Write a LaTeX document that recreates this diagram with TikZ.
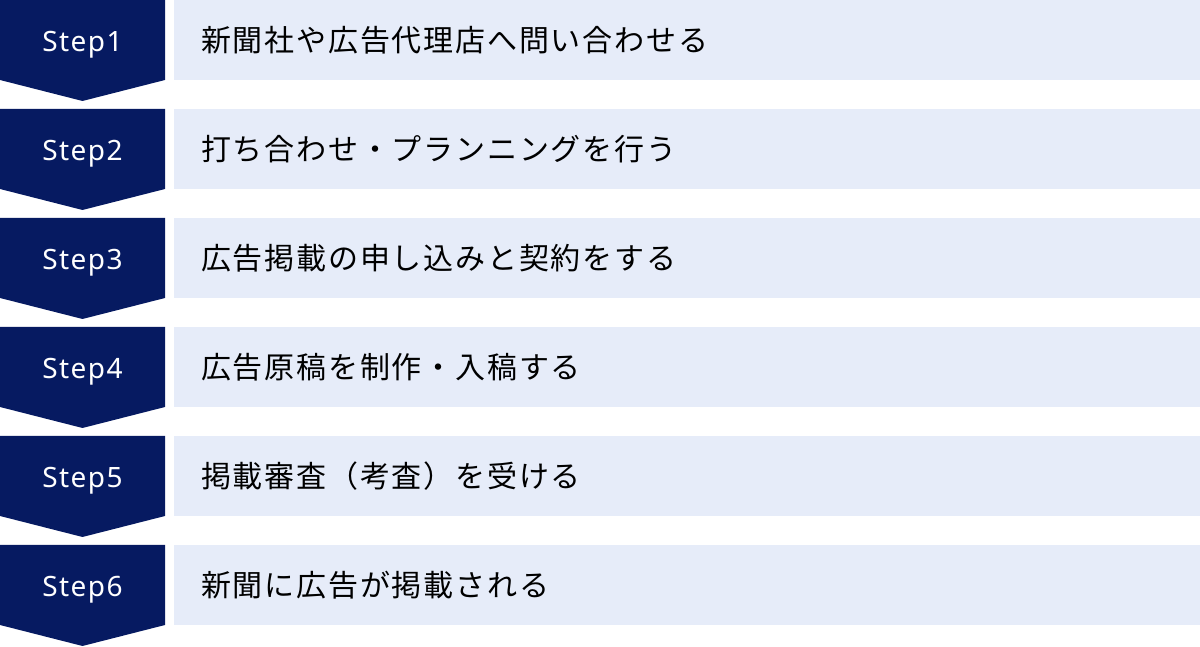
\documentclass[tikz,border=0pt]{standalone}
\usepackage{fontspec}
\setmainfont[LetterSpace=6]{Noto Sans CJK JP}
\newfontfamily\stepfont[LetterSpace=5]{Noto Sans}
\definecolor{navy}{HTML}{061A61}
\definecolor{paleblue}{HTML}{E6ECF9}
\begin{document}
\begin{tikzpicture}[x=1pt,y=1pt,
  stepshape/.style={fill=navy},
  steplabel/.style={text=white,font=\stepfont\fontsize{28}{34}\selectfont,inner sep=0pt,anchor=base},
  textbox/.style={fill=paleblue,anchor=north west,minimum height=80pt,text width=972pt,
    inner xsep=27pt,inner ysep=0pt,align=left,font=\fontsize{30}{36}\selectfont,text=black}]
\useasboundingbox (0,0) rectangle (1200,647);
\foreach \i/\txt in {1/新聞社や広告代理店へ問い合わせる,2/打ち合わせ・プランニングを行う,3/広告掲載の申し込みと契約をする,4/広告原稿を制作・入稿する,5/掲載審査（考査）を受ける,6/新聞に広告が掲載される}{
  \pgfmathsetmacro{\top}{647-109*(\i-1)}
  \fill[stepshape] (0,\top) -- (165,\top) -- (165,\top-80) -- (82.5,\top-101) -- (0,\top-80) -- cycle;
  \node[steplabel] (s\i) at (82.5,\top-52) {Step\i};
  \node[textbox] (t\i) at (174,\top) {\txt};
}
\end{tikzpicture}
\end{document}
